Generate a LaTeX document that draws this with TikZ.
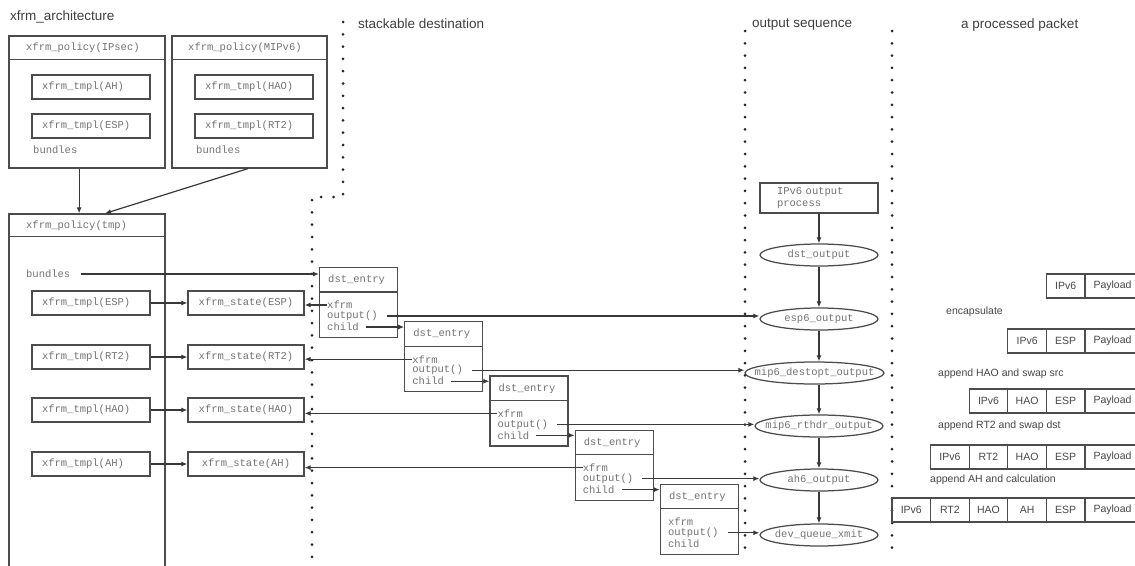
\documentclass[tikz,border=0pt]{standalone}
\usepackage{fontspec}
\setsansfont{Liberation Sans}
\setmonofont{Liberation Mono}
\usetikzlibrary{calc,arrows.meta,shapes.geometric}

\tikzset{
  line/.style={draw=black!70, line width=1.25pt},
  box/.style={rectangle, draw=black!70, line width=1.25pt, inner sep=0pt},
  mono/.style={font=\fontsize{10.5}{12}\selectfont\ttfamily, text=black!55},
  hdr/.style={mono, anchor=west, inner sep=0pt},
  lbl/.style={font=\fontsize{13.5}{15}\selectfont\sffamily, text=black!75, anchor=west, inner sep=0pt},
  note/.style={font=\fontsize{10.5}{12}\selectfont\sffamily, text=black!72, anchor=west, inner sep=0pt},
  arr/.style={draw=black!78, line width=1.2pt, -{Latex[length=6pt,width=5pt]}},
  sep/.style={draw=black!85, line width=3pt, line cap=round, dash pattern=on 0pt off 12.3pt},
  tmplbox/.style={box, mono, minimum height=24pt, text width=98pt, align=left, inner xsep=10pt},
  statebox/.style={box, mono, minimum width=116pt, minimum height=24pt},
  oval/.style={ellipse, draw=black!70, line width=1.25pt, inner sep=0pt, minimum height=22pt},
  cell/.style={box, font=\fontsize{10.5}{12}\selectfont\sffamily, text=black!72,
               minimum width=38.6pt, minimum height=24pt},
}

\begin{document}
\begin{tikzpicture}[x=1pt,y=-1pt]
\path[fill=white, use as bounding box] (0,0) rectangle (1135,565);

% column titles
\node[lbl] (tArch) at (10,17) {xfrm\_architecture};
\node[lbl] (tStack) at (358,24) {stackable destination};
\node[lbl] (tSeq) at (752,25) {output sequence};
\node[lbl] (tPkt) at (961,25) {a processed packet};

% column separators
\draw[sep] (343,22) -- (343,197) -- (312,197) -- (312,566);
\draw[sep] (745,31) -- (745,548);
\draw[sep] (892,31) -- (892,548);

% policy IPsec
\node[box, minimum width=156pt, minimum height=132pt] (polIPsec) at (87,102) {};
\draw[line] ($(polIPsec.north west)+(0,24)$) -- ($(polIPsec.north east)+(0,24)$);
\node[hdr] (polIPsecH) at (26,48) {xfrm\_policy(IPsec)};
\node[tmplbox] (tmplIAH) at (91,87) {xfrm\_tmpl(AH)};
\node[tmplbox] (tmplIESP) at (91,126) {xfrm\_tmpl(ESP)};
\node[hdr] (bundI) at (33,150) {bundles};

% policy MIPv6
\node[box, minimum width=155pt, minimum height=132pt] (polMIP) at (249.5,102) {};
\draw[line] ($(polMIP.north west)+(0,24)$) -- ($(polMIP.north east)+(0,24)$);
\node[hdr] (polMIPH) at (188,48) {xfrm\_policy(MIPv6)};
\node[tmplbox] (tmplMHAO) at (254,87) {xfrm\_tmpl(HAO)};
\node[tmplbox] (tmplMRT2) at (254,126) {xfrm\_tmpl(RT2)};
\node[hdr] (bundM) at (196,150) {bundles};

% policy tmp (runs off the bottom)
\node[box, minimum width=156pt, minimum height=366pt] (polTmp) at (87,397) {};
\draw[line] ($(polTmp.north west)+(0,23)$) -- ($(polTmp.north east)+(0,23)$);
\node[hdr] (polTmpH) at (26,226) {xfrm\_policy(tmp)};
\node[hdr] (bundT) at (26,274) {bundles};

\draw[arr] ($(polIPsec.south west)!0.45!(polIPsec.south east)$) -- ($(polTmp.north west)!0.45!(polTmp.north east)$);
\draw[arr] ($(polMIP.south west)!0.49!(polMIP.south east)$) -- ($(polTmp.north west)!0.615!(polTmp.north east)$);

% templates and states
\node[tmplbox] (tESP) at (91,303) {xfrm\_tmpl(ESP)};
\node[tmplbox] (tRT2) at (91,357) {xfrm\_tmpl(RT2)};
\node[tmplbox] (tHAO) at (91,410) {xfrm\_tmpl(HAO)};
\node[tmplbox] (tAH)  at (91,464) {xfrm\_tmpl(AH)};
\node[statebox] (sESP) at (246,303) {xfrm\_state(ESP)};
\node[statebox] (sRT2) at (246,357) {xfrm\_state(RT2)};
\node[statebox] (sHAO) at (246,410) {xfrm\_state(HAO)};
\node[statebox] (sAH)  at (246,464) {xfrm\_state(AH)};
\foreach \a/\b in {tESP/sESP, tRT2/sRT2, tHAO/sHAO, tAH/sAH}
  \draw[arr] (\a.east) -- (\b.west);

% stacked dst_entry chain
\foreach \i in {1,...,5}{
  \pgfmathsetmacro{\lx}{319+85.2*(\i-1)}
  \pgfmathsetmacro{\ty}{267+54.2*(\i-1)}
  \node[box, minimum width=78pt, minimum height=70pt, anchor=north west] (d\i) at (\lx,\ty) {};
  \draw[line] ($(d\i.north west)+(0,25)$) -- ($(d\i.north east)+(0,25)$);
  \node[hdr] (dh\i) at (\lx+9,\ty+13) {dst\_entry};
  \node[hdr] (dx\i) at (\lx+8,\ty+38) {xfrm};
  \node[hdr] (do\i) at (\lx+8,\ty+49) {output()};
  \node[hdr] (dc\i) at (\lx+8,\ty+60) {child};
}

\draw[arr] ([xshift=10pt]bundT.east) -- (bundT.east -| d1.west);

\draw[arr] (dx1.west) -- (dx1.west -| sESP.east);
\draw[arr] (dx2.west) -- (dx2.west -| sRT2.east);
\draw[arr] (dx3.west) -- (dx3.west -| sHAO.east);
\draw[arr] (dx4.west) -- (dx4.west -| sAH.east);

\foreach \a/\b in {1/2, 2/3, 3/4, 4/5}
  \draw[arr] ([xshift=7pt]dc\a.east) -- (dc\a.east -| d\b.west);

% output sequence
\node[box, mono, minimum height=30pt, text width=84pt, align=left, inner xsep=17pt] (proc) at (819,198) {IPv6 output\\process};
\node[oval, minimum width=118pt, label={[mono]center:dst\_output}] (dstout) at (819,255) {};
\node[oval, minimum width=118pt, label={[mono]center:esp6\_output}] (esp) at (819,319) {};
\node[oval, minimum width=139pt, label={[mono]center:mip6\_destopt\_output}] (mip6d) at (814.5,373) {};
\node[oval, minimum width=128pt, label={[mono]center:mip6\_rthdr\_output}] (mip6r) at (819,426) {};
\node[oval, minimum width=118pt, label={[mono]center:ah6\_output}] (ah6) at (819,480) {};
\node[oval, minimum width=118pt, label={[mono]center:dev\_queue\_xmit}] (devq) at (819,535) {};

\draw[arr] (proc.south) -- (dstout.north);
\draw[arr] (dstout.south) -- (esp.north);
\draw[arr] (esp.south) -- (esp.south |- mip6d.north);
\draw[arr] (mip6d.south -| esp.south) -- (mip6r.north);
\draw[arr] (mip6r.south) -- (ah6.north);
\draw[arr] (ah6.south) -- (devq.north);

\draw[arr] ([xshift=9pt]do1.east) -- (do1.east -| esp.west);
\draw[arr] ([xshift=9pt]do2.east) -- (do2.east -| mip6d.west);
\draw[arr] ([xshift=9pt]do3.east) -- (do3.east -| mip6r.west);
\draw[arr] ([xshift=9pt]do4.east) -- (do4.east -| ah6.west);
\draw[arr] ([xshift=9pt]do5.east) -- (do5.east -| devq.west);

% processed packet
\node[cell] (r1a) at (1065.7,286) {IPv6};
\node[cell, minimum width=55pt] (r1p) at (1112.5,286) {Payload};
\node[note] (c1) at (946,312) {encapsulate};

\node[cell] (r2a) at (1027.1,341) {IPv6};
\node[cell] (r2b) at (1065.7,341) {ESP};
\node[cell, minimum width=55pt] (r2p) at (1112.5,341) {Payload};
\node[note] (c2) at (938,374) {append HAO and swap src};

\node[cell] (r3a) at (988.5,401) {IPv6};
\node[cell] (r3b) at (1027.1,401) {HAO};
\node[cell] (r3c) at (1065.7,401) {ESP};
\node[cell, minimum width=55pt] (r3p) at (1112.5,401) {Payload};
\node[note] (c3) at (938,426) {append RT2 and swap dst};

\node[cell] (r4a) at (949.9,457) {IPv6};
\node[cell] (r4b) at (988.5,457) {RT2};
\node[cell] (r4c) at (1027.1,457) {HAO};
\node[cell] (r4d) at (1065.7,457) {ESP};
\node[cell, minimum width=55pt] (r4p) at (1112.5,457) {Payload};
\node[note] (c4) at (930,480) {append AH and calculation};

\node[cell] (r5a) at (911.3,510) {IPv6};
\node[cell] (r5b) at (949.9,510) {RT2};
\node[cell] (r5c) at (988.5,510) {HAO};
\node[cell] (r5d) at (1027.1,510) {AH};
\node[cell] (r5e) at (1065.7,510) {ESP};
\node[cell, minimum width=55pt] (r5p) at (1112.5,510) {Payload};
\end{tikzpicture}
\end{document}
